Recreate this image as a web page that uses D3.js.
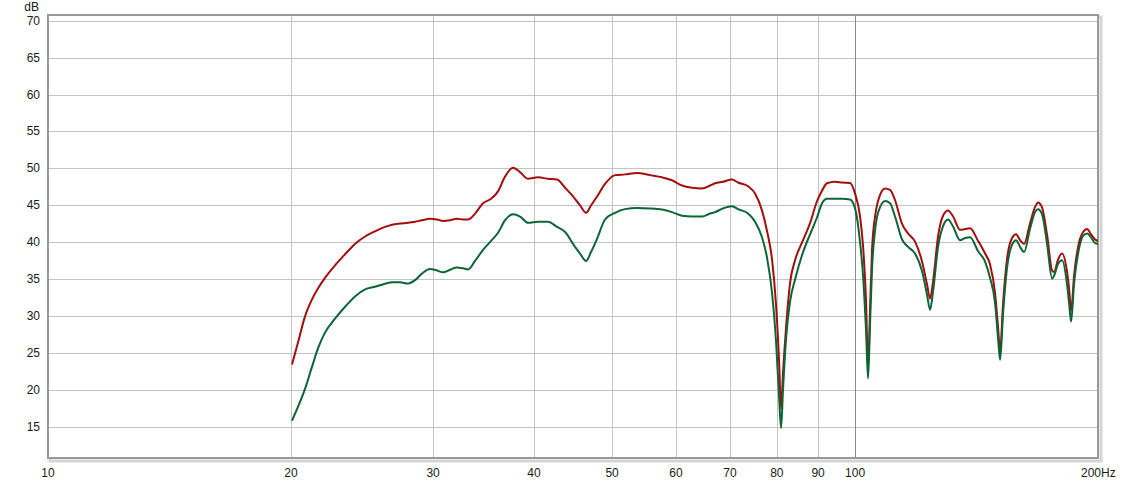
<!DOCTYPE html>
<html>
<head>
<meta charset="utf-8">
<script src="https://cdn.jsdelivr.net/npm/d3@7"></script>
<style>
  html, body { margin: 0; padding: 0; background: #ffffff; }
  svg { display: block; }
  text { font-family: "Liberation Sans", Arial, sans-serif; fill: #1a1a1a; }
</style>
</head>
<body>
<svg id="chart" width="1121" height="480"></svg>
<script>
// ---- data (frequency in Hz, level in dB) ----
const freqs = [20.06,20.41,20.82,21.24,21.61,22.04,22.68,23.34,24.01,24.71,25.42,26.16,26.69,27.30,27.93,28.50,29.07,29.74,30.34,30.87,31.49,32.12,32.68,33.15,33.82,34.60,35.40,36.11,36.84,37.69,38.45,39.34,40.48,41.65,42.73,43.72,44.98,45.63,46.42,47.08,47.90,49.00,50.42,51.88,53.69,55.72,57.66,59.32,61.04,62.81,64.63,66.12,67.07,68.62,70.40,71.62,73.69,75.18,76.69,77.80,78.91,79.82,80.51,80.97,81.43,82.13,83.07,84.27,85.97,87.95,89.73,91.01,92.32,94.45,96.36,98.58,100.0,101.44,102.31,103.19,103.78,104.37,104.97,105.87,106.78,108.94,110.50,112.09,114.35,116.33,118.67,121.07,122.81,123.86,124.93,126.72,128.54,130.39,132.27,134.93,136.87,138.84,142.05,144.91,146.99,149.11,150.39,151.25,152.55,154.30,156.52,158.31,160.13,161.97,164.77,167.13,168.57,170.51,172.96,175.44,176.45,178.47,180.52,183.11,184.16,185.22,186.81,188.95,191.67,193.87,196.09,198.34,200.05];

const redDb = [23.5,26.5,30.0,32.3,33.8,35.2,36.9,38.4,39.8,40.8,41.5,42.1,42.4,42.55,42.65,42.8,43.0,43.2,43.1,42.9,43.0,43.2,43.1,43.1,43.9,45.3,45.9,46.9,48.9,50.1,49.5,48.6,48.8,48.6,48.5,47.4,45.9,45.0,44.0,45.0,46.2,47.9,49.1,49.2,49.4,49.1,48.8,48.4,47.7,47.4,47.3,47.7,48.0,48.2,48.5,48.1,47.6,46.6,44.3,41.5,37.7,31.5,24.0,17.5,22.5,28.5,34.5,37.6,40.0,42.6,45.6,47.0,48.0,48.2,48.1,48.05,46.6,43.5,39.5,32.0,23.0,31.0,39.0,43.5,45.6,47.3,47.1,45.7,42.5,41.2,40.1,37.4,34.3,32.4,34.7,40.8,43.6,44.3,43.5,41.7,41.8,41.9,40.2,38.5,37.0,33.1,28.5,25.3,31.8,37.8,40.6,41.1,40.3,39.8,42.6,44.8,45.4,44.7,41.0,36.2,36.0,37.7,38.5,36.0,33.8,30.7,35.5,39.4,41.4,41.8,41.1,40.4,40.2];

const greenDb = [15.9,17.8,20.2,23.2,25.7,27.8,29.7,31.3,32.7,33.65,34.0,34.4,34.6,34.6,34.45,34.9,35.8,36.4,36.2,35.95,36.3,36.6,36.5,36.35,37.5,39.0,40.2,41.3,43.0,43.8,43.5,42.65,42.8,42.8,42.1,41.4,39.4,38.5,37.5,38.7,40.5,43.1,44.0,44.5,44.65,44.6,44.45,44.1,43.6,43.5,43.5,43.9,44.1,44.6,44.9,44.5,43.9,42.8,40.7,37.9,33.2,26.6,19.1,14.9,20.2,27.0,32.0,35.0,38.3,41.1,43.4,45.3,45.9,45.9,45.9,45.8,44.6,40.0,35.5,28.0,21.6,29.0,36.5,41.6,44.0,45.6,45.3,43.5,40.4,39.4,38.5,36.1,32.9,30.9,33.4,39.4,42.2,43.1,42.15,40.3,40.6,40.7,38.8,37.4,35.2,31.8,27.0,24.1,30.4,36.6,39.7,40.3,39.4,38.7,41.9,44.1,44.5,43.8,39.8,35.1,35.5,37.1,37.6,34.3,31.8,29.3,34.5,38.5,40.9,41.2,40.7,39.9,39.8];

const xTickValues = [10,20,30,40,50,60,70,80,90,100,200];
const xTickLabels = ["10","20","30","40","50","60","70","80","90","100","200Hz"];
const xGridValues = [20,30,40,50,60,70,80,90,100];
const yTickValues = [15,20,25,30,35,40,45,50,55,60,65,70];
const yUnit = "dB";

// ---- layout ----
const svg = d3.select("#chart");
const plot = { left: 48, right: 1098, top: 15, bottom: 458 };

const x = d3.scaleLog().domain([10, 200]).range([plot.left, plot.right]);
const y = d3.scaleLinear().domain([10.85, 70.75]).range([plot.bottom, plot.top]);

// shadow of frame
svg.append("rect")
  .attr("x", plot.left + 2).attr("y", plot.top + 2)
  .attr("width", plot.right - plot.left + 1).attr("height", plot.bottom - plot.top + 1)
  .attr("fill", "none").attr("stroke", "#d4d4d4").attr("stroke-width", 3);

// plot background
svg.append("rect")
  .attr("x", plot.left).attr("y", plot.top)
  .attr("width", plot.right - plot.left).attr("height", plot.bottom - plot.top)
  .attr("fill", "#ffffff");

// horizontal grid
svg.append("g").selectAll("line").data(yTickValues).join("line")
  .attr("x1", plot.left).attr("x2", plot.right)
  .attr("y1", d => Math.round(y(d)) + 0.5).attr("y2", d => Math.round(y(d)) + 0.5)
  .attr("stroke", "#c4c4c4").attr("stroke-width", 1);

// vertical grid
svg.append("g").selectAll("line").data(xGridValues).join("line")
  .attr("x1", d => Math.round(x(d)) + 0.5).attr("x2", d => Math.round(x(d)) + 0.5)
  .attr("y1", plot.top).attr("y2", plot.bottom)
  .attr("stroke", d => d === 100 ? "#8a8a8a" : "#c4c4c4").attr("stroke-width", 1);

// frame
svg.append("rect")
  .attr("x", plot.left).attr("y", plot.top)
  .attr("width", plot.right - plot.left).attr("height", plot.bottom - plot.top)
  .attr("fill", "none").attr("stroke", "#999999").attr("stroke-width", 2);

// curves
const pts = (vals) => freqs.map((f, i) => [f, vals[i]]);
const line = d3.line().x(d => x(d[0])).y(d => y(d[1])).curve(d3.curveMonotoneX);

svg.append("clipPath").attr("id", "clip").append("rect")
  .attr("x", plot.left).attr("y", plot.top)
  .attr("width", plot.right - plot.left).attr("height", plot.bottom - plot.top);

const curves = svg.append("g").attr("clip-path", "url(#clip)");
curves.append("path").attr("d", line(pts(redDb)))
  .attr("fill", "none").attr("stroke", "#a50d0d").attr("stroke-width", 2)
  .attr("stroke-linejoin", "round");
curves.append("path").attr("d", line(pts(greenDb)))
  .attr("fill", "none").attr("stroke", "#0b6534").attr("stroke-width", 2)
  .attr("stroke-linejoin", "round");

// y labels
svg.append("g").selectAll("text").data(yTickValues).join("text")
  .attr("x", 40).attr("y", d => y(d) + 4)
  .attr("text-anchor", "end").attr("font-size", 12)
  .text(d => d);
svg.append("text").attr("x", 39).attr("y", 11)
  .attr("text-anchor", "end").attr("font-size", 12).text(yUnit);

// x labels
svg.append("g").selectAll("text").data(xTickValues).join("text")
  .attr("x", (d, i) => i === xTickValues.length - 1 ? x(d) - 17 : x(d))
  .attr("y", 477)
  .attr("text-anchor", (d, i) => i === xTickValues.length - 1 ? "start" : "middle")
  .attr("font-size", 12)
  .text((d, i) => xTickLabels[i]);
</script>
</body>
</html>
